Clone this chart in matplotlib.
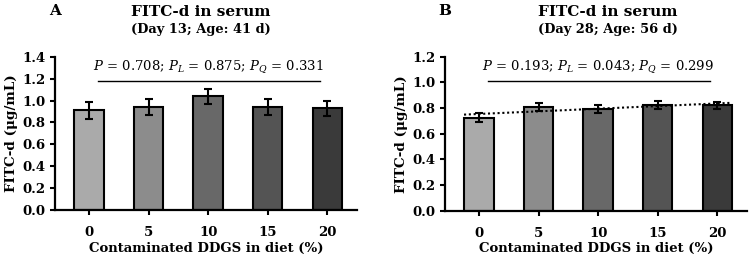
import matplotlib
matplotlib.use("Agg")
import matplotlib.pyplot as plt
import numpy as np

plt.rcParams['font.family'] = ['DejaVu Serif']
plt.rcParams['mathtext.fontset'] = 'dejavuserif'

levels = ['0', '5', '10', '15', '20']
bar_colors = ['#aaaaaa', '#8c8c8c', '#686868', '#545454', '#3a3a3a']

mean_a = [0.91, 0.94, 1.04, 0.94, 0.93]
err_a = [0.075, 0.07, 0.07, 0.07, 0.07]
mean_b = [0.725, 0.81, 0.795, 0.825, 0.82]
err_b = [0.035, 0.03, 0.03, 0.03, 0.03]

title_a = 'FITC-d in serum'
sub_a = '(Day 13; Age: 41 d)'
sub_b = '(Day 28; Age: 56 d)'
ptext_a = r'$P$ = 0.708; $P_L$ = 0.875; $P_Q$ = 0.331'
ptext_b = r'$P$ = 0.193; $P_L$ = 0.043; $P_Q$ = 0.299'

fig = plt.figure(figsize=(7.5, 2.64), dpi=100)
ax_a = fig.add_axes([0.0733, 0.2045, 0.4027, 0.5805])
ax_b = fig.add_axes([0.5933, 0.2020, 0.4027, 0.5830])


def panel(ax, means, errs, ymax, ptext, pline_y, ptext_y):
	x = np.arange(len(levels))
	ax.bar(x, means, width=0.49, color=bar_colors, edgecolor='black', linewidth=1.5, zorder=2)
	ax.errorbar(x, means, yerr=errs, fmt='none', ecolor='black', elinewidth=1.5,
		capsize=3, capthick=1.5, zorder=3)
	ax.set_xlim(-0.57, 4.5)
	ax.set_ylim(0, ymax)
	ax.set_yticks(np.arange(0, ymax + 0.01, 0.2))
	ax.set_yticklabels(['%.1f' % v for v in np.arange(0, ymax + 0.01, 0.2)])
	ax.set_xticks(x)
	ax.set_xticklabels(levels)
	for s in ['top', 'right']:
		ax.spines[s].set_visible(False)
	for s in ['left', 'bottom']:
		ax.spines[s].set_linewidth(1.6)
	ax.tick_params(axis='both', width=1.5, length=3.5, labelsize=9.5, direction='out')
	ax.tick_params(axis='x', pad=8)
	for lab in ax.get_xticklabels() + ax.get_yticklabels():
		lab.set_fontweight('bold')
	ax.set_xlabel('Contaminated DDGS in diet (%)', fontsize=9.5, fontweight='bold', labelpad=2)
	ax.set_ylabel('FITC-d (μg/mL)', fontsize=9.7, fontweight='bold', labelpad=3)
	ax.plot([0.15, 3.88], [pline_y, pline_y], color='black', linewidth=1.0)
	ax.text(2.0, ptext_y, ptext, ha='center', va='center', fontsize=9.5)


panel(ax_a, mean_a, err_a, 1.4, ptext_a, 1.18, 1.31)
panel(ax_b, mean_b, err_b, 1.2, ptext_b, 1.013, 1.12)

# linear trend for panel B
xb = np.arange(len(levels))
k, b0 = np.polyfit(xb, mean_b, 1)
xt = np.array([-0.25, 4.25])
ax_b.plot(xt, k * xt + b0, color='black', linestyle=(0, (1, 1.3)), linewidth=1.5, zorder=4)

fig.text(49 / 750, 1 - 11 / 264, 'A', fontsize=11, fontweight='bold', ha='left', va='center')
fig.text(201 / 750, 1 - 11.5 / 264, title_a, fontsize=11, fontweight='bold', ha='center', va='center')
fig.text(201 / 750, 1 - 29 / 264, sub_a, fontsize=9.4, fontweight='bold', ha='center', va='center')
fig.text(438 / 750, 1 - 11 / 264, 'B', fontsize=11, fontweight='bold', ha='left', va='center')
fig.text(608 / 750, 1 - 11.5 / 264, title_a, fontsize=11, fontweight='bold', ha='center', va='center')
fig.text(608 / 750, 1 - 29 / 264, sub_b, fontsize=9.4, fontweight='bold', ha='center', va='center')

fig.savefig('out.png', dpi=100)
